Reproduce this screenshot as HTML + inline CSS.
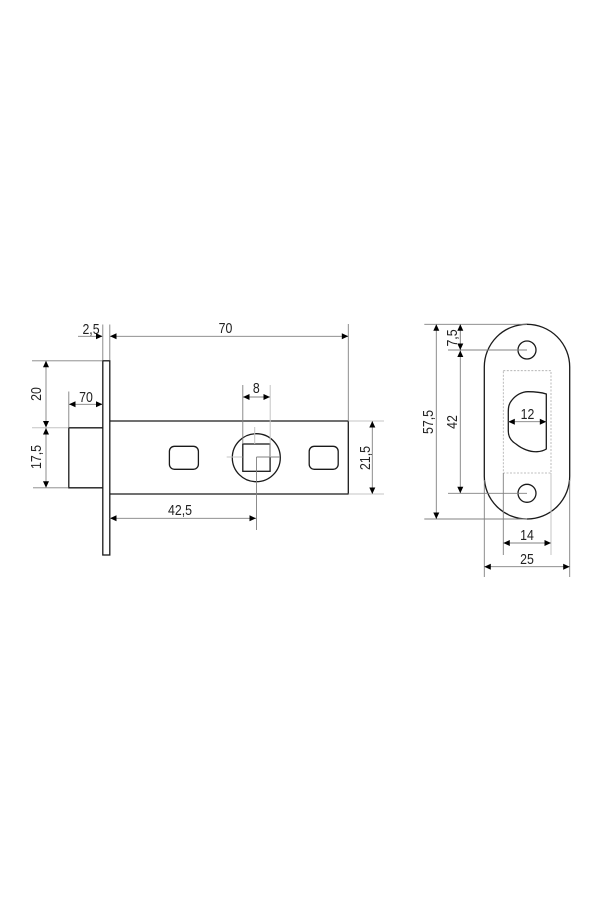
<!DOCTYPE html>
<html><head><meta charset="utf-8"><style>
html,body{margin:0;padding:0;background:#fff}
svg{display:block}
text{font-family:"Liberation Sans",sans-serif;font-size:14.5px;fill:#222;text-anchor:middle}
.o{fill:none;stroke:#1a1a1a;stroke-width:1.3}
.e{stroke:#808080;stroke-width:.9;fill:none}
.l{stroke:#c4c4c4;stroke-width:1;fill:none}
.d{stroke:#777;stroke-width:.9;fill:none}
.a{fill:#000}
</style></head><body>
<svg width="600" height="900" viewBox="0 0 600 900" xmlns="http://www.w3.org/2000/svg">
<defs>
<polygon id="r" points="0,0 -6.500,-3 -6.500,3"/>
</defs>
<!-- left view outlines -->
<rect class="o" x="102.8" y="360.8" width="7" height="194.2"/>
<path class="o" d="M109.8 421H348.3V494H109.8"/>
<path class="o" d="M102.8 427.8H68.8V487.8H102.8"/>
<rect class="o" x="169.4" y="446.3" width="29" height="23" rx="5"/>
<rect class="o" x="309.2" y="446.3" width="29" height="23" rx="5"/>
<circle class="o" cx="256.3" cy="457.7" r="24"/>
<rect class="o" x="242.8" y="444" width="27.3" height="27.3"/>
<!-- left ext lines -->
<path class="e" d="M102.8 324.5V360M109.8 324.5V360M348.3 324V421M78 336.3H102M110 336.3H348M32 360.8H102.5M33 487.8H68.5M68.8 391.5V427.5M68.8 404.3H102.5M46 361V487M109.8 518.3H256M256.5 457V530M256.5 457H280M372.3 421V494M242.8 385V444M242.8 397H270"/>
<path class="l" d="M32 427.8H68.5M270.2 385V457M254.7 427V444M226.7 457H242.5M348.5 421H384M348.5 494H384"/>
<!-- left arrows -->
<g class="a">
<use href="#r" transform="translate(102.5,336.3)"/>
<use href="#r" transform="translate(110,336.3) rotate(180)"/>
<use href="#r" transform="translate(348.3,336.3)"/>
<use href="#r" transform="translate(46,360.8) rotate(-90)"/>
<use href="#r" transform="translate(46,427.5) rotate(90)"/>
<use href="#r" transform="translate(46,428) rotate(-90)"/>
<use href="#r" transform="translate(46,487.8) rotate(90)"/>
<use href="#r" transform="translate(69,404.3) rotate(180)"/>
<use href="#r" transform="translate(102.5,404.3)"/>
<use href="#r" transform="translate(110,518.3) rotate(180)"/>
<use href="#r" transform="translate(256,518.3)"/>
<use href="#r" transform="translate(243,397) rotate(180)"/>
<use href="#r" transform="translate(270,397)"/>
<use href="#r" transform="translate(372.3,421) rotate(-90)"/>
<use href="#r" transform="translate(372.3,494) rotate(90)"/>
</g>
<text transform="translate(91,334) scale(.85,1)">2,5</text>
<text transform="translate(225.5,333) scale(.85,1)">70</text>
<text transform="translate(86,402) scale(.85,1)">70</text>
<text transform="translate(180,515) scale(.85,1)">42,5</text>
<text transform="translate(256.3,393) scale(.85,1)">8</text>
<text transform="translate(41,394) rotate(-90) scale(.85,1)">20</text>
<text transform="translate(41,457) rotate(-90) scale(.85,1)">17,5</text>
<text transform="translate(370,458) rotate(-90) scale(.85,1)">21,5</text>
<!-- right view -->
<rect class="o" x="484.3" y="324.3" width="85.4" height="194.7" rx="42.7"/>
<circle class="o" cx="527" cy="350" r="9"/>
<circle class="o" cx="527" cy="493.3" r="9"/>
<rect x="503.3" y="370.7" width="47.7" height="102.3" fill="none" stroke="#aaa" stroke-width=".8" stroke-dasharray="2 1.5"/>
<path class="o" d="M546.3 394C540 392 534 391.7 528 391.7C522 391.7 516 395 512 400C508.5 404 508.3 408 508.3 412V431C508.3 437 511 441 516 444C522 449 530 452 537 451.7C541 451.5 544 450.5 546.3 449Z"/>
<path class="e" d="M424.3 324.3H527M448 350H527M448 493.3H527M424.3 519H527M436.3 325V519M460.3 350V493M503.3 473V555M484.3 480V577M569.7 480V577M503.3 543H551M484.3 566.7H569.7M508.3 421.7H546.3"/>
<path class="l" d="M551 473V555"/>
<path class="d" d="M460.3 325V350"/>
<g class="a">
<use href="#r" transform="translate(436.3,324.3) rotate(-90)"/>
<use href="#r" transform="translate(436.3,519) rotate(90)"/>
<use href="#r" transform="translate(460.3,324.3) rotate(-90)"/>
<use href="#r" transform="translate(460.3,350) rotate(90)"/>
<use href="#r" transform="translate(460.3,350.5) rotate(-90)"/>
<use href="#r" transform="translate(460.3,493.3) rotate(90)"/>
<use href="#r" transform="translate(508.3,421.7) rotate(180)"/>
<use href="#r" transform="translate(546.3,421.7)"/>
<use href="#r" transform="translate(503.3,543) rotate(180)"/>
<use href="#r" transform="translate(551,543)"/>
<use href="#r" transform="translate(484.3,566.7) rotate(180)"/>
<use href="#r" transform="translate(569.7,566.7)"/>
</g>
<text transform="translate(527.5,419) scale(.85,1)">12</text>
<text transform="translate(527,540) scale(.85,1)">14</text>
<text transform="translate(527,564) scale(.85,1)">25</text>
<text transform="translate(433,422) rotate(-90) scale(.85,1)">57,5</text>
<text transform="translate(457,422) rotate(-90) scale(.85,1)">42</text>
<text transform="translate(457,338) rotate(-90) scale(.85,1)">7,5</text>
</svg>
</body></html>
